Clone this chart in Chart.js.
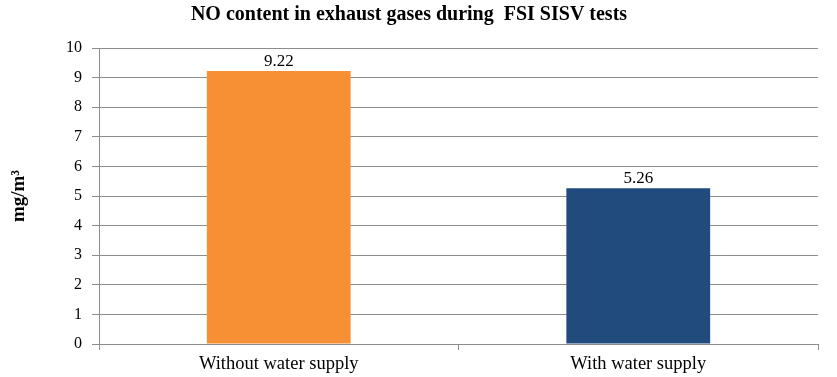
<!DOCTYPE html>
<html>
<head>
<meta charset="utf-8">
<script src="https://cdn.jsdelivr.net/npm/chart.js@4/dist/chart.umd.min.js"></script>
<style>
  html, body { margin: 0; padding: 0; background: #fff; }
  #wrap { width: 837px; height: 377px; }
</style>
</head>
<body>
<div id="wrap"><canvas id="c" width="837" height="377"></canvas></div>
<script>
const categories = ["Without water supply", "With water supply"];
const values = [9.22, 5.26];
const barColors = ["#F78F34", "#214A7D"];
const yTicks = [0, 1, 2, 3, 4, 5, 6, 7, 8, 9, 10];

const FONT = "'Liberation Serif', 'Times New Roman', serif";
const GRID = "#8c8c8c";

// value labels above the bars
const valueLabels = {
  id: "valueLabels",
  afterDatasetsDraw(chart) {
    const ctx = chart.ctx;
    const meta = chart.getDatasetMeta(0);
    ctx.save();
    ctx.font = "17px " + FONT;
    ctx.fillStyle = "#000";
    ctx.textAlign = "center";
    ctx.textBaseline = "bottom";
    meta.data.forEach((bar, i) => {
      ctx.fillText(values[i].toFixed(2), bar.x, bar.y - 1);
    });
    ctx.restore();
  },
};

new Chart(document.getElementById("c"), {
  type: "bar",
  data: {
    labels: categories,
    datasets: [{
      data: values,
      backgroundColor: barColors,
      borderWidth: 0,
      barPercentage: 0.4,
      categoryPercentage: 1,
    }],
  },
  options: {
    responsive: false,
    animation: false,
    layout: { padding: { left: 0, right: 19, top: 0, bottom: 0 } },
    plugins: {
      legend: { display: false },
      tooltip: { enabled: false },
      title: {
        display: true,
        text: "NO content in exhaust gases during  FSI SISV tests",
        color: "#000",
        font: { family: FONT, size: 20, weight: "bold", lineHeight: 1.2 },
        padding: { top: 3, bottom: 21 },
      },
    },
    scales: {
      x: {
        grid: {
          offset: true,
          drawOnChartArea: false,
          color: GRID,
          tickLength: 6,
        },
        border: { color: GRID },
        ticks: {
          color: "#000",
          font: { family: FONT, size: 18.5 },
          padding: 3,
          maxRotation: 0,
        },
        afterFit(scale) { scale.height = 33; },
      },
      y: {
        min: 0,
        max: 10,
        afterBuildTicks(scale) { scale.ticks = yTicks.map(v => ({ value: v })); },
        grid: { color: GRID, tickLength: 7 },
        border: { color: GRID },
        ticks: {
          color: "#000",
          font: { family: FONT, size: 16 },
          padding: 10,
        },
        title: {
          display: true,
          text: "mg/m³",
          color: "#000",
          font: { family: FONT, size: 19, weight: "bold", lineHeight: 1.2 },
          padding: { top: 8, bottom: 0 },
        },
        afterFit(scale) { scale.width = 99; },
      },
    },
  },
  plugins: [valueLabels],
});
</script>
</body>
</html>
